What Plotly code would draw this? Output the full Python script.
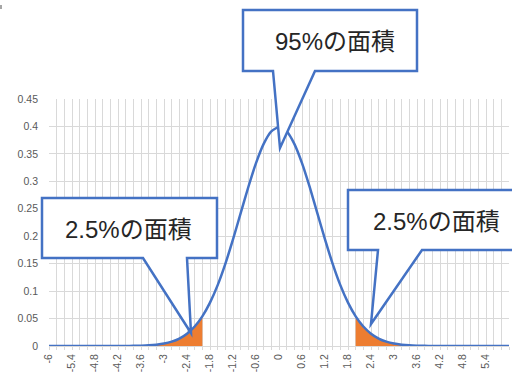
import plotly.graph_objects as go

# Categories (z values) and series values
x_vals = [-6.0, -5.8, -5.6, -5.4, -5.2, -5.0, -4.8, -4.6, -4.4, -4.2,
          -4.0, -3.8, -3.6, -3.4, -3.2, -3.0, -2.8, -2.6, -2.4, -2.2,
          -2.0, -1.8, -1.6, -1.4, -1.2, -1.0, -0.8, -0.6, -0.4, -0.2,
          0.0, 0.2, 0.4, 0.6, 0.8, 1.0, 1.2, 1.4, 1.6, 1.8,
          2.0, 2.2, 2.4, 2.6, 2.8, 3.0, 3.2, 3.4, 3.6, 3.8,
          4.0, 4.2, 4.4, 4.6, 4.8, 5.0, 5.2, 5.4, 5.6, 5.8, 6.0]
density = [0.0000, 0.0000, 0.0000, 0.0000, 0.0000, 0.0000, 0.0000, 0.0000, 0.0000, 0.0000,
           0.0001, 0.0003, 0.0006, 0.0012, 0.0024, 0.0044, 0.0079, 0.0136, 0.0224, 0.0355,
           0.0540, 0.0790, 0.1109, 0.1497, 0.1942, 0.2420, 0.2897, 0.3332, 0.3683, 0.3910,
           0.3989, 0.3910, 0.3683, 0.3332, 0.2897, 0.2420, 0.1942, 0.1497, 0.1109, 0.0790,
           0.0540, 0.0355, 0.0224, 0.0136, 0.0079, 0.0044, 0.0024, 0.0012, 0.0006, 0.0003,
           0.0001, 0.0000, 0.0000, 0.0000, 0.0000, 0.0000, 0.0000, 0.0000, 0.0000, 0.0000, 0.0000]
# tail areas (2.5% each side)
left_tail_x = [-6.0, -5.8, -5.6, -5.4, -5.2, -5.0, -4.8, -4.6, -4.4, -4.2,
               -4.0, -3.8, -3.6, -3.4, -3.2, -3.0, -2.8, -2.6, -2.4, -2.2, -2.0]
left_tail_y = [0.0000, 0.0000, 0.0000, 0.0000, 0.0000, 0.0000, 0.0000, 0.0000, 0.0000, 0.0000,
               0.0001, 0.0003, 0.0006, 0.0012, 0.0024, 0.0044, 0.0079, 0.0136, 0.0224, 0.0355, 0.0540]
right_tail_x = [2.0, 2.2, 2.4, 2.6, 2.8, 3.0, 3.2, 3.4, 3.6, 3.8,
                4.0, 4.2, 4.4, 4.6, 4.8, 5.0, 5.2, 5.4, 5.6, 5.8, 6.0]
right_tail_y = [0.0540, 0.0355, 0.0224, 0.0136, 0.0079, 0.0044, 0.0024, 0.0012, 0.0006, 0.0003,
                0.0001, 0.0000, 0.0000, 0.0000, 0.0000, 0.0000, 0.0000, 0.0000, 0.0000, 0.0000, 0.0000]

x_tick_vals = [-6, -5.4, -4.8, -4.2, -3.6, -3, -2.4, -1.8, -1.2, -0.6, 0,
               0.6, 1.2, 1.8, 2.4, 3, 3.6, 4.2, 4.8, 5.4, 6]
x_tick_text = ["-6", "-5.4", "-4.8", "-4.2", "-3.6", "-3", "-2.4", "-1.8", "-1.2", "-0.6", "0",
               "0.6", "1.2", "1.8", "2.4", "3", "3.6", "4.2", "4.8", "5.4", "6"]
y_tick_vals = [0, 0.05, 0.1, 0.15, 0.2, 0.25, 0.3, 0.35, 0.4, 0.45]
y_tick_text = ["0", "0.05", "0.1", "0.15", "0.2", "0.25", "0.3", "0.35", "0.4", "0.45"]

callout_texts = ["95%の面積", "2.5%の面積", "2.5%の面積"]

W, H = 512, 374
ML, MR, MT, MB = 49, 3, 99, 28
PW, PH = W - ML - MR, H - MT - MB

BLUE = "#4472C4"
ORANGE = "#ED7D31"
GRID = "#D9D9D9"
TXT = "#595959"
FONT = "Liberation Sans, Arial, Noto Sans CJK JP, sans-serif"


def px(xp):
    return (xp - ML) / PW


def py(yp):
    return (H - MB - yp) / PH


fig = go.Figure()
fig.add_trace(go.Scatter(x=left_tail_x, y=left_tail_y, mode="lines", fill="tozeroy",
                         fillcolor=ORANGE, line=dict(width=0, color=ORANGE),
                         hoverinfo="skip", showlegend=False))
fig.add_trace(go.Scatter(x=right_tail_x, y=right_tail_y, mode="lines", fill="tozeroy",
                         fillcolor=ORANGE, line=dict(width=0, color=ORANGE),
                         hoverinfo="skip", showlegend=False))
fig.add_trace(go.Scatter(x=x_vals, y=density, mode="lines",
                         line=dict(color=BLUE, width=2.5, shape="spline", smoothing=0.6),
                         showlegend=False))

# callouts: (box x0, y0, x1, y1, tail base left, tail base right, tip x, tip y, text x, text y)
callouts = [
    (243, 10, 417, 71, 273, 315, 280, 148, 335, 41),
    (42, 198, 217, 258, 143, 187, 191, 333, 128, 229),
    (348, 190, 530, 250, 378, 422, 371, 324, 436, 221),
]
shapes = []
annotations = []
for (x0, y0, x1, y1, b0, b1, tx, ty, cx, cy), t in zip(callouts, callout_texts):
    pts = [(x0, y0), (x1, y0), (x1, y1), (b1, y1), (tx, ty), (b0, y1), (x0, y1)]
    path = "M " + " L ".join(f"{px(a):.5f},{py(b):.5f}" for a, b in pts) + " Z"
    shapes.append(dict(type="path", xref="paper", yref="paper", path=path,
                       fillcolor="white", line=dict(color=BLUE, width=2.5), layer="above"))
    annotations.append(dict(xref="paper", yref="paper", x=px(cx), y=py(cy), text=t,
                            showarrow=False, xanchor="center", yanchor="middle",
                            font=dict(size=24, color="#262626", family=FONT)))

shapes.append(dict(type="rect", xref="paper", yref="paper", x0=px(0), x1=px(2),
                   y0=py(9), y1=py(5), fillcolor="#A6A6A6", line=dict(width=0)))

fig.update_layout(
    width=W, height=H,
    margin=dict(l=ML, r=MR, t=MT, b=MB),
    paper_bgcolor="white", plot_bgcolor="white",
    shapes=shapes, annotations=annotations,
    xaxis=dict(range=[-6, 6], tickvals=x_tick_vals, ticktext=x_tick_text,
               tickangle=-90, tickfont=dict(size=10.5, color=TXT, family=FONT),
               showgrid=True, gridcolor=GRID, gridwidth=1,
               showline=True, linecolor=GRID, linewidth=1,
               ticks="outside", ticklen=3, tickcolor=GRID,
               minor=dict(dtick=0.2, tick0=-6, showgrid=True, gridcolor=GRID, gridwidth=1,
                          ticks="outside", ticklen=3, tickcolor=GRID),
               zeroline=False, fixedrange=True),
    yaxis=dict(range=[0, 0.45], tickvals=y_tick_vals, ticktext=y_tick_text,
               tickfont=dict(size=10.5, color=TXT, family=FONT),
               showgrid=True, gridcolor=GRID, gridwidth=1, zeroline=False,
               ticklabelstandoff=10, fixedrange=True),
)

fig.write_html("out.html", config={"displayModeBar": False},
               post_script="document.body.style.margin='0';document.body.style.overflow='hidden';")
